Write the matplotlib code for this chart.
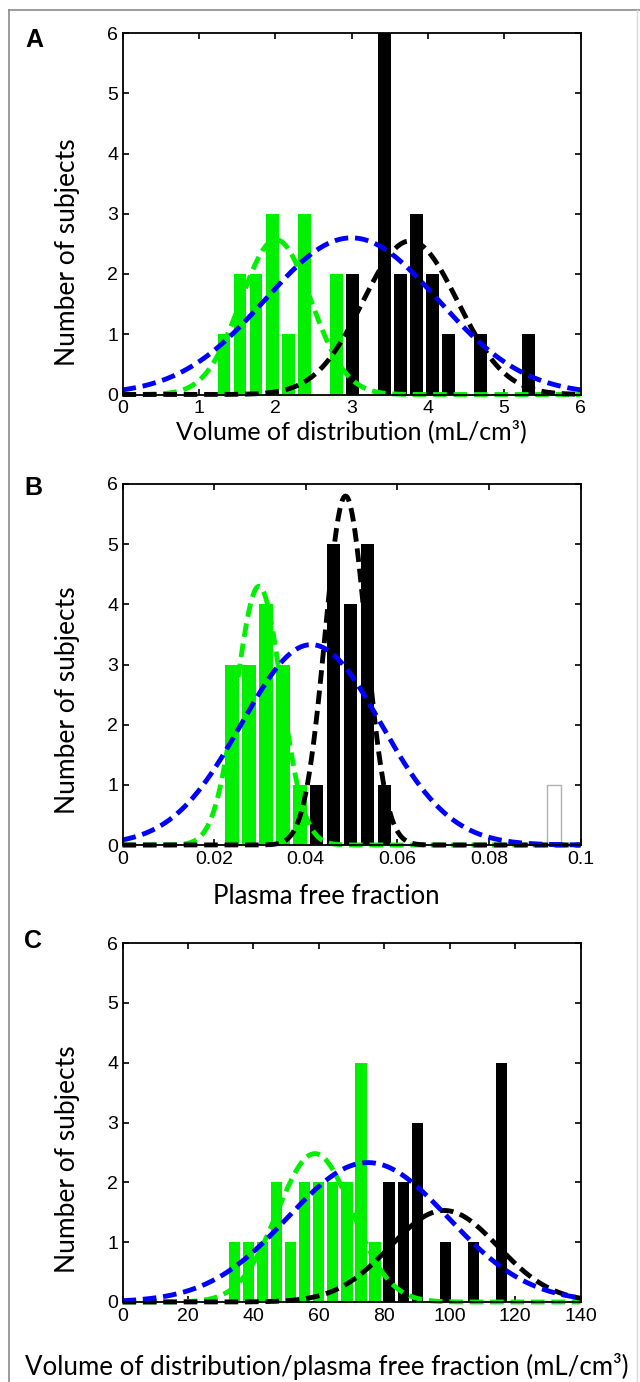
import numpy as np
import matplotlib
matplotlib.use("Agg")
import matplotlib.pyplot as plt
from matplotlib.lines import Line2D

# ---------------- data ----------------
# Panel A: volume of distribution (mL/cm3)
A_centers = [1.33, 1.54, 1.75, 1.96, 2.17, 2.38, 2.59, 2.80, 3.01, 3.22,
             3.43, 3.64, 3.85, 4.06, 4.27, 4.48, 4.69, 4.90, 5.11, 5.32]
A_green = [1, 2, 2, 3, 1, 3, 0, 2, 0, 0, 0, 0, 0, 0, 0, 0, 0, 0, 0, 0]
A_black = [0, 0, 0, 0, 0, 0, 0, 0, 2, 0, 6, 2, 3, 2, 1, 0, 1, 0, 0, 1]
A_outlier = [0] * 20
# fitted normal curves: (mean, sd, peak height)
A_fit_green = (2.01, 0.46, 2.57)
A_fit_black = (3.77, 0.62, 2.55)
A_fit_blue = (3.00, 1.13, 2.60)

# Panel B: plasma free fraction
B_centers = [0.0239, 0.0276, 0.0313, 0.0350, 0.0387, 0.0424, 0.0461, 0.0498,
             0.0535, 0.0572, 0.0609, 0.0646, 0.0683, 0.0720, 0.0757, 0.0794,
             0.0831, 0.0868, 0.0905, 0.0942]
B_green = [3, 3, 4, 3, 1, 0, 0, 0, 0, 0, 0, 0, 0, 0, 0, 0, 0, 0, 0, 0]
B_black = [0, 0, 0, 0, 0, 1, 5, 4, 5, 1, 0, 0, 0, 0, 0, 0, 0, 0, 0, 0]
B_outlier = [0, 0, 0, 0, 0, 0, 0, 0, 0, 0, 0, 0, 0, 0, 0, 0, 0, 0, 0, 1]
B_fit_green = (0.0298, 0.0049, 4.30)
B_fit_black = (0.0487, 0.00445, 5.80)
B_fit_blue = (0.0412, 0.0152, 3.33)

# Panel C: volume of distribution / plasma free fraction (mL/cm3)
C_centers = [34.2, 38.5, 42.8, 47.1, 51.4, 55.7, 60.0, 64.3, 68.6, 72.9,
             77.2, 81.5, 85.8, 90.1, 94.4, 98.7, 103.0, 107.3, 111.6, 115.9]
C_green = [1, 1, 1, 2, 1, 2, 2, 2, 2, 4, 1, 0, 0, 0, 0, 0, 0, 0, 0, 0]
C_black = [0, 0, 0, 0, 0, 0, 0, 0, 0, 0, 0, 2, 2, 3, 0, 1, 0, 1, 0, 4]
C_outlier = [0] * 20
C_fit_green = (58.8, 11.5, 2.48)
C_fit_black = (98.3, 16.5, 1.53)
C_fit_blue = (75.0, 24.5, 2.33)

panel_letters = ["A", "B", "C"]
x_labels = ["Volume of distribution (mL/cm\u00b3)",
            "Plasma free fraction",
            "Volume of distribution/plasma free fraction (mL/cm\u00b3)"]
y_label = "Number of subjects"
x_limits = [(0, 6), (0, 0.1), (0, 140)]
x_ticks = [[0, 1, 2, 3, 4, 5, 6],
           [0, 0.02, 0.04, 0.06, 0.08, 0.1],
           [0, 20, 40, 60, 80, 100, 120, 140]]
x_ticklabels = [["0", "1", "2", "3", "4", "5", "6"],
                ["0", "0.02", "0.04", "0.06", "0.08", "0.1"],
                ["0", "20", "40", "60", "80", "100", "120", "140"]]
y_ticks = [0, 1, 2, 3, 4, 5, 6]

panels = [
    (A_centers, A_green, A_black, A_outlier, A_fit_green, A_fit_black, A_fit_blue),
    (B_centers, B_green, B_black, B_outlier, B_fit_green, B_fit_black, B_fit_blue),
    (C_centers, C_green, C_black, C_outlier, C_fit_green, C_fit_black, C_fit_blue),
]

# ---------------- layout ----------------
W, H = 640, 1382
fig = plt.figure(figsize=(W / 100, H / 100), dpi=100)

def px_axes(left, top, right, bottom):
    return [left / W, 1 - bottom / H, (right - left) / W, (bottom - top) / H]

axes_px = [(122.5, 33, 580.5, 394.5),
           (122.5, 484, 580.5, 845),
           (122.5, 943, 580.5, 1302)]
xlabel_pos = [(351, 431), (326, 897), (327, 1367)]
xlabel_size = [18, 18.5, 18.6]
ylabel_pos = [(67, 252), (67, 700), (67, 1159)]
letter_pos = [(34, 40), (33, 488), (33, 941)]
ticklabel_font = "Liberation Sans"
label_font = "Lato"
GREEN = "#00f000"

for i, (centers, g, b, o, fg, fb, fbl) in enumerate(panels):
    ax = fig.add_axes(px_axes(*axes_px[i]))
    centers = np.array(centers)
    step = centers[1] - centers[0]
    bw = 0.8 * step
    ax.bar(centers, g, width=bw, color=GREEN, edgecolor="none", zorder=2)
    ax.bar(centers, b, width=bw, color="black", edgecolor="none", zorder=2)
    if any(o):
        ax.bar(centers, o, width=bw, facecolor="white", edgecolor="#b0b0b0",
               linewidth=1.0, zorder=2)
    xmin, xmax = x_limits[i]
    xs = np.linspace(xmin, xmax, 600)
    for (mu, sd, pk), col in ((fg, GREEN), (fb, "black"), (fbl, "#0000ff")):
        ys = pk * np.exp(-0.5 * ((xs - mu) / sd) ** 2)
        ax.plot(xs, ys, color=col, lw=3.5, dashes=(2.8, 1.4), zorder=3,
                solid_capstyle="butt", dash_capstyle="butt", clip_on=False)
    ax.set_xlim(xmin, xmax)
    ax.set_ylim(0, 6)
    ax.set_xticks(x_ticks[i])
    ax.set_xticklabels(x_ticklabels[i], fontfamily=ticklabel_font, fontsize=14)
    ax.set_yticks(y_ticks)
    ax.set_yticklabels([str(t) for t in y_ticks], fontfamily=ticklabel_font,
                       fontsize=14)
    ax.tick_params(direction="in", length=4, width=1.2, top=True, right=True,
                   pad=3)
    ax.tick_params(axis="x", pad=4)
    for s in ax.spines.values():
        s.set_linewidth(1.3)
        s.set_zorder(5)

    fig.text(xlabel_pos[i][0] / W, 1 - xlabel_pos[i][1] / H, x_labels[i],
             ha="center", va="center", fontfamily=label_font,
             fontsize=xlabel_size[i])
    fig.text(ylabel_pos[i][0] / W, 1 - ylabel_pos[i][1] / H, y_label,
             ha="center", va="center", rotation=90, fontfamily=label_font,
             fontsize=19)
    fig.text(letter_pos[i][0] / W, 1 - letter_pos[i][1] / H, panel_letters[i],
             ha="center", va="center", fontfamily="Liberation Sans",
             fontweight="bold", fontsize=18)

# figure frame
frame_col = "#8a8a8a"
fig.add_artist(Line2D([8.5 / W, 8.5 / W], [0, 1 - 10 / H], color=frame_col,
                      lw=1.2, transform=fig.transFigure))
fig.add_artist(Line2D([8.5 / W, 1], [1 - 10 / H, 1 - 10 / H], color=frame_col,
                      lw=1.2, transform=fig.transFigure))
fig.add_artist(Line2D([637 / W, 637 / W], [0, 1 - 10 / H], color="#d8d8d8",
                      lw=1.0, transform=fig.transFigure))

fig.savefig("out.png", dpi=100)
